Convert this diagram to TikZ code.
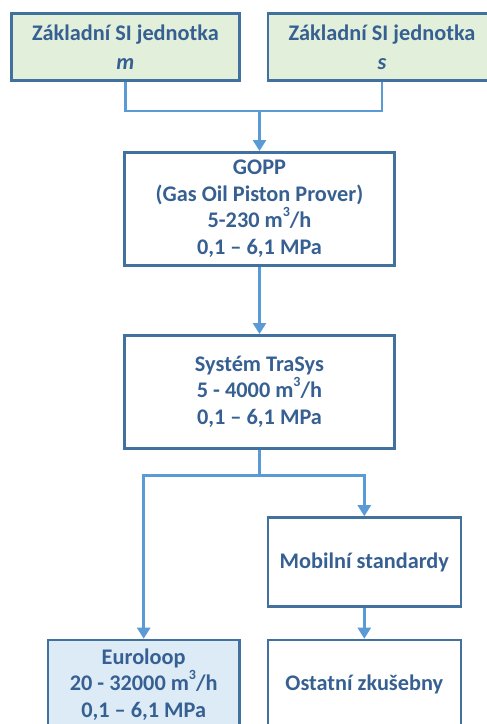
\documentclass[tikz,border=0pt]{standalone}
\usepackage{fontspec}
\setmainfont{Carlito}
\usetikzlibrary{arrows.meta}
\definecolor{txt}{HTML}{376092}
\definecolor{bord}{HTML}{41719C}
\definecolor{conn}{HTML}{5B9BD5}
\definecolor{greenfill}{HTML}{E2EFDA}
\definecolor{bluefill}{HTML}{DDEBF7}
\newcommand{\cube}{\raisebox{0.5em}{\fontsize{14}{14}\selectfont 3}}
\tikzset{
  box/.style={draw=bord, line width=2.6pt, rectangle, align=center, text=txt,
    font=\fontsize{22.3}{26.5}\selectfont\bfseries, inner sep=0pt},
  topbox/.style={box, fill=greenfill, minimum width=228pt, minimum height=67pt,
    font=\fontsize{22.3}{29}\selectfont\bfseries},
  conline/.style={draw=conn, line width=2.5pt},
  conarrow/.style={conline, -{Triangle[width=13pt,length=11pt]}}
}
\begin{document}
\begin{tikzpicture}[x=1pt,y=-1pt]
\useasboundingbox (0,0) rectangle (487,724);
\clip (0,0) rectangle (487,724);
\node[topbox] (m) at (125.4,47)
  {Základní SI jednotka\\\textit{m}};
\node[topbox] (s) at (382,47)
  {Základní SI jednotka\\\textit{s}};
\node[box, minimum width=270pt, minimum height=113pt] (gopp) at (259.5,208.8)
  {GOPP\\(Gas Oil Piston Prover)\\5-230 m\cube/h\\0,1 – 6,1 MPa};
\node[box, minimum width=270pt, minimum height=113pt] (trasys) at (259.5,391.8)
  {Systém TraSys\\5 - 4000 m\cube/h\\0,1 – 6,1 MPa};
\node[box, minimum width=193pt, minimum height=89pt] (mob) at (364.3,562)
  {Mobilní standardy};
\node[box, minimum width=193pt, minimum height=89pt] (ost) at (364.3,684.5)
  {Ostatní zkušebny};
\node[box, fill=bluefill, minimum width=191.5pt, minimum height=89pt] (euro) at (143.7,684.5)
  {Euroloop\\20 - 32000 m\cube/h\\0,1 – 6,1 MPa};
\coordinate (j1) at (259.5,111);
\coordinate (j2) at (259.5,475.7);
\draw[conline] (m.south) |- (j1) -| (s.south);
\draw[conarrow] (j1) -- (gopp.north);
\draw[conarrow] (gopp.south) -- (trasys.north);
\draw[conline] (trasys.south) -- (j2);
\draw[conarrow] (j2) -| (euro.north);
\draw[conarrow] (j2) -| (mob.north);
\draw[conarrow] (mob.south) -- (ost.north);
\end{tikzpicture}
\end{document}
